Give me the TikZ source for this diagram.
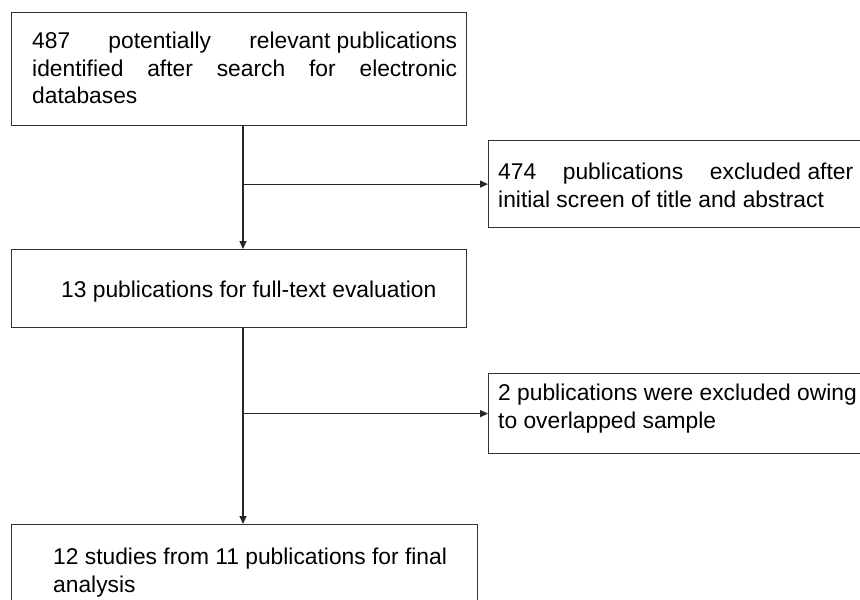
\documentclass[tikz,border=0pt]{standalone}
\usepackage{fontspec}
\setmainfont{Liberation Sans}
\usetikzlibrary{arrows.meta}
\begin{document}
\begin{tikzpicture}[x=1pt,y=-1pt,
  box/.style={draw=black!80,line width=1.2pt,rectangle,inner sep=0pt,anchor=north west},
  txt/.style={inner sep=0pt,anchor=north west,align=justify,font=\fontsize{22.8}{27.5}\selectfont},
  arr/.style={draw=black!85,line width=1.2pt,-{Triangle[length=8pt,width=7pt]}}]
\useasboundingbox (0,0) rectangle (860,600);
\fill[white] (0,0) rectangle (860,600);
% boxes
\node[box,minimum width=455pt,minimum height=113pt] (b1) at (11,12) {};
\node[box,minimum width=380pt,minimum height=87pt] (b2) at (488,140) {};
\node[box,minimum width=455pt,minimum height=78pt] (b3) at (11,249) {};
\node[box,minimum width=380pt,minimum height=80pt] (b4) at (488,373) {};
\node[box,minimum width=466pt,minimum height=92pt] (b5) at (11,524) {};
% texts
\node[txt,text width=425pt] (t1) at (32,32)
  {487\hfill potentially\hfill relevant publications\\
   identified\hfill after\hfill search\hfill for\hfill electronic\\
   databases};
\node[txt,text width=355pt] (t2) at (498,163)
  {474\hfill publications\hfill excluded after\\
   initial screen of title and abstract};
\node[txt,text width=400pt] (t3) at (61,281)
  {13 publications for full-text evaluation};
\node[txt,text width=360pt] (t4) at (498,384)
  {2 publications were excluded owing\\
   to overlapped sample};
\node[txt,text width=420pt] (t5) at (53,548)
  {12 studies from 11 publications for final\\
   analysis};
% connectors
\coordinate (ax) at (243,0);
\draw[arr] (b1.south -| ax) -- (b3.north -| ax);
\draw[arr] (ax |- b2.west) -- (b2.west);
\draw[arr] (b3.south -| ax) -- (b5.north -| ax);
\draw[arr] (ax |- b4.west) -- (b4.west);
\end{tikzpicture}
\end{document}
